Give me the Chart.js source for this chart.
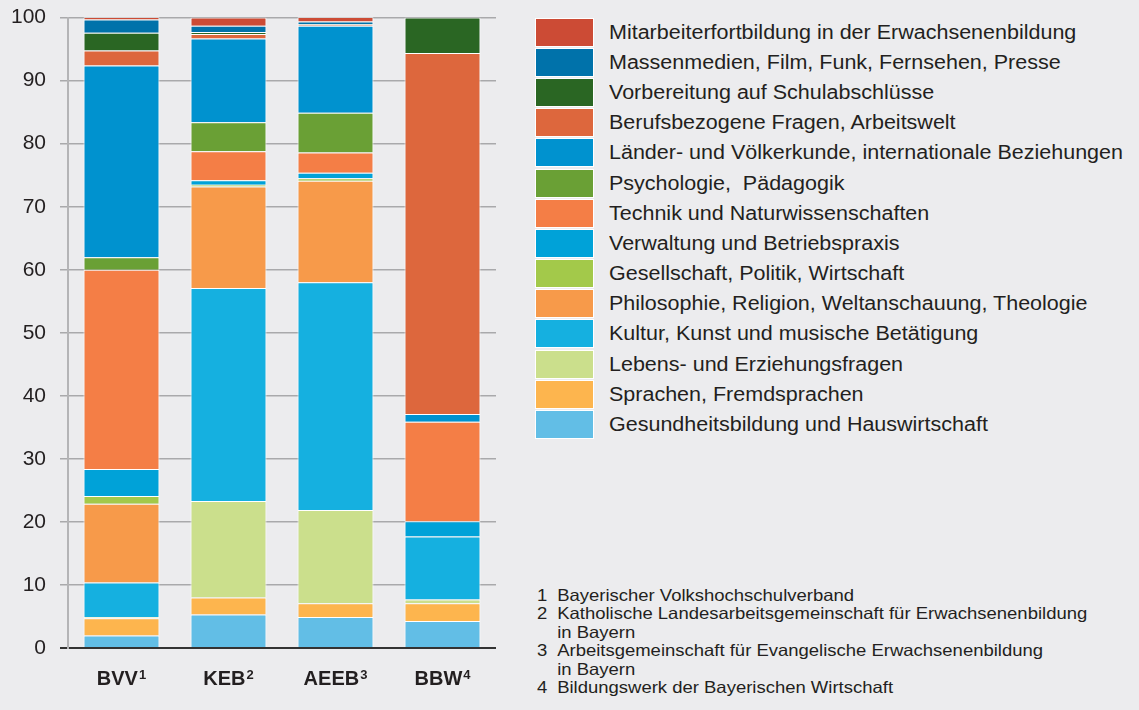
<!DOCTYPE html>
<html>
<head>
<meta charset="utf-8">
<script src="https://cdn.jsdelivr.net/npm/chart.js@4/dist/chart.umd.min.js"></script>
<style>
  html, body { margin: 0; padding: 0; background: #ececee; }
  body { width: 1139px; height: 710px; position: relative; overflow: hidden; font-family: "Liberation Sans", Arial, sans-serif; color: #231f20; }
  #wrap { position: absolute; left: 0; top: -9px; width: 510px; height: 719px; }
  #legend { position: absolute; left: 535px; top: 17px; }
  .row { height: 30.2px; display: flex; align-items: center; }
  .box { width: 59px; height: 29px; border: 1px solid #fff; box-sizing: border-box; flex: none; }
  .lab { margin-left: 15px; font-size: 20px; white-space: nowrap; transform: scaleX(1.075); transform-origin: left center; }
  #notes { position: absolute; left: 537px; top: 586px; font-size: 16.5px; line-height: 18.4px; transform: scaleX(1.12); transform-origin: left top; }
  .note { display: flex; white-space: nowrap; }
  .num { width: 18px; flex: none; }
</style>
</head>
<body>
<div id="wrap"><canvas id="c"></canvas></div>
<div id="legend"></div>
<div id="notes"></div>
<script>
// Categories (x axis) and their footnote marks
const categories = ['BVV', 'KEB', 'AEEB', 'BBW'];
const categoryMarks = ['1', '2', '3', '4'];
// Y tick values
const yTicks = [0, 10, 20, 30, 40, 50, 60, 70, 80, 90, 100];

// Series names (stack order bottom → top)
const seriesNames = [
  'Gesundheitsbildung und Hauswirtschaft',
  'Sprachen, Fremdsprachen',
  'Lebens- und Erziehungsfragen',
  'Kultur, Kunst und musische Betätigung',
  'Philosophie, Religion, Weltanschauung, Theologie',
  'Gesellschaft, Politik, Wirtschaft',
  'Verwaltung und Betriebspraxis',
  'Technik und Naturwissenschaften',
  'Psychologie,  Pädagogik',
  'Länder- und Völkerkunde, internationale Beziehungen',
  'Berufsbezogene Fragen, Arbeitswelt',
  'Vorbereitung auf Schulabschlüsse',
  'Massenmedien, Film, Funk, Fernsehen, Presse',
  'Mitarbeiterfortbildung in der Erwachsenenbildung'
];
const seriesColors = [
  '#62bee6', '#fdb54e', '#cbdf8c', '#15b0e0', '#f79a4a', '#a3c94a', '#00a2d8',
  '#f47e46', '#6aa035', '#0092cf', '#dd673d', '#2a6623', '#0072aa', '#cc4b35'
];

// Values per series: [BVV, KEB, AEEB, BBW] (percent)
const gesundheit    = [2.0, 5.3, 4.9, 4.3];
const sprachen      = [2.7, 2.7, 2.2, 2.8];
const lebens        = [0.2, 15.3, 14.8, 0.6];
const kultur        = [5.5, 33.8, 36.1, 10.0];
const philosophie   = [12.5, 16.1, 16.1, 0];
const gesellschaft  = [1.2, 0.3, 0.4, 0];
const verwaltung    = [4.3, 0.7, 0.9, 2.4];
const technik       = [31.6, 4.6, 3.2, 15.8];
const psychologie   = [2.0, 4.6, 6.3, 0];
const laender       = [30.4, 13.3, 13.8, 1.2];
const beruf         = [2.4, 0.7, 0.2, 57.3];
const vorbereitung  = [2.8, 0.3, 0.1, 5.6];
const massenmedien  = [2.1, 1.0, 0.4, 0];
const mitarbeiter   = [0.4, 1.3, 0.7, 0];

const seriesValues = [gesundheit, sprachen, lebens, kultur, philosophie, gesellschaft,
  verwaltung, technik, psychologie, laender, beruf, vorbereitung, massenmedien, mitarbeiter];

// Footnotes
const footnotes = [
  ['1', 'Bayerischer Volkshochschulverband'],
  ['2', 'Katholische Landesarbeitsgemeinschaft für Erwachsenenbildung<br>in Bayern'],
  ['3', 'Arbeitsgemeinschaft für Evangelische Erwachsenenbildung<br>in Bayern'],
  ['4', 'Bildungswerk der Bayerischen Wirtschaft']
];

const datasets = seriesNames.map((n, i) => ({
  label: n,
  data: seriesValues[i],
  backgroundColor: seriesColors[i],
  borderColor: '#ffffff',
  borderWidth: 1,
  borderSkipped: 'start'
}));

// Draws x labels with a raised footnote mark, centred on the scale's tick positions
const supLabels = {
  id: 'supLabels',
  afterDraw(chart) {
    const sx = chart.scales.x;
    const ctx = chart.ctx;
    ctx.save();
    ctx.fillStyle = '#231f20';
    ctx.textBaseline = 'alphabetic';
    ctx.textAlign = 'left';
    categories.forEach((lab, i) => {
      const cx = sx.getPixelForTick(i);
      ctx.font = 'bold 20px "Liberation Sans", Arial, sans-serif';
      const w1 = ctx.measureText(lab).width;
      ctx.font = 'bold 13px "Liberation Sans", Arial, sans-serif';
      const w2 = ctx.measureText(categoryMarks[i]).width;
      const x0 = cx - (w1 + 1 + w2) / 2;
      const base = sx.top + 37;
      ctx.font = 'bold 20px "Liberation Sans", Arial, sans-serif';
      ctx.fillText(lab, x0, base);
      ctx.font = 'bold 13px "Liberation Sans", Arial, sans-serif';
      ctx.fillText(categoryMarks[i], x0 + w1 + 1, base - 6);
    });
    ctx.restore();
  }
};

new Chart(document.getElementById('c'), {
  type: 'bar',
  data: { labels: categories.map((c, i) => c + categoryMarks[i]), datasets },
  plugins: [supLabels],
  options: {
    responsive: true,
    maintainAspectRatio: false,
    animation: false,
    layout: { padding: { top: 8, right: 14, left: 0, bottom: 0 } },
    plugins: { legend: { display: false }, tooltip: { enabled: false } },
    datasets: { bar: { barPercentage: 0.71, categoryPercentage: 1.0 } },
    scales: {
      x: {
        stacked: true,
        grid: { display: false, drawTicks: false },
        border: { display: false },
        ticks: { display: false },
        afterFit: s => { s.height = 62; }
      },
      y: {
        stacked: true,
        min: 0, max: 100,
        afterBuildTicks: s => { s.ticks = yTicks.map(v => ({ value: v })); },
        grid: {
          color: c => c.tick && c.tick.value === 0 ? '#333333' : '#a9a9ab',
          lineWidth: c => c.tick && c.tick.value === 0 ? 2 : 1.5,
          tickLength: 8
        },
        border: { display: true, color: '#b4b4b6', width: 2 },
        ticks: { color: '#231f20', padding: 14, font: { family: 'Liberation Sans', size: 21 } },
        afterFit: s => { s.width = 68; }
      }
    }
  }
});

// HTML legend (top → bottom = reverse stack order)
const lg = document.getElementById('legend');
for (let i = seriesNames.length - 1; i >= 0; i--) {
  const r = document.createElement('div');
  r.className = 'row';
  r.innerHTML = '<div class="box" style="background:' + seriesColors[i] + '"></div><div class="lab">' + seriesNames[i].replace(/  /g, ' &nbsp;') + '</div>';
  lg.appendChild(r);
}
const nt = document.getElementById('notes');
footnotes.forEach(f => {
  const d = document.createElement('div');
  d.className = 'note';
  d.innerHTML = '<div class="num">' + f[0] + '</div><div>' + f[1] + '</div>';
  nt.appendChild(d);
});
</script>
</body>
</html>
